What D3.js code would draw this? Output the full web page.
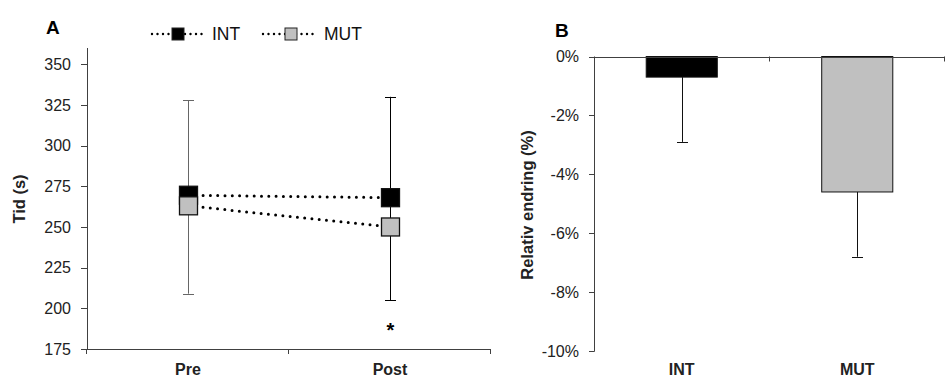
<!DOCTYPE html>
<html>
<head>
<meta charset="utf-8">
<script src="https://cdn.jsdelivr.net/npm/d3@7"></script>
<style>
  body { margin: 0; background: #fff; }
  svg { font-family: "Liberation Sans", Arial, sans-serif; }
</style>
</head>
<body>
<svg width="946" height="378"></svg>
<script>
// Panel A data
const times = ['Pre', 'Post'];
const intMean = [269.5, 268];
const mutMean = [263, 250];
const errHigh = [328, 330];
const errLow = [209, 205];
const yTicksA = [175, 200, 225, 250, 275, 300, 325, 350];

// Panel B data
const groups = ['INT', 'MUT'];
const relChange = [-0.7, -4.6];
const relErr = [-2.9, -6.8];
const yTicksB = [0, -2, -4, -6, -8, -10];

const svg = d3.select('svg');
const axisColor = '#404040';

// ---------- Panel A ----------
const xA = d3.scaleBand().domain(times).range([87, 491]);
const yA = d3.scaleLinear().domain([175, 360]).range([349, 48]);
const gA = svg.append('g');

// y axis
gA.append('line')
  .attr('x1', 87.5).attr('x2', 87.5)
  .attr('y1', yA(360)).attr('y2', yA(175))
  .attr('stroke', axisColor);
gA.selectAll('.ytA')
  .data(yTicksA)
  .enter().append('line')
  .attr('x1', 81).attr('x2', 87.5)
  .attr('y1', d => Math.round(yA(d)) + 0.5)
  .attr('y2', d => Math.round(yA(d)) + 0.5)
  .attr('stroke', axisColor);
gA.selectAll('.ylA')
  .data(yTicksA)
  .enter().append('text')
  .attr('x', 71).attr('y', d => yA(d))
  .attr('dy', '0.36em')
  .attr('text-anchor', 'end')
  .attr('font-size', 16)
  .attr('fill', '#222')
  .text(d => d);

// x axis
gA.append('line')
  .attr('x1', 87).attr('x2', 491)
  .attr('y1', yA(175) + 0.5).attr('y2', yA(175) + 0.5)
  .attr('stroke', axisColor);
gA.selectAll('.xtA')
  .data([...times.map(t => xA(t) + xA.bandwidth()), 87])
  .enter().append('line')
  .attr('x1', d => Math.round(d) - 0.5).attr('x2', d => Math.round(d) - 0.5)
  .attr('y1', yA(175)).attr('y2', yA(175) + 5)
  .attr('stroke', axisColor);
gA.selectAll('.xlA')
  .data(times)
  .enter().append('text')
  .attr('x', d => xA(d) + xA.bandwidth() / 2)
  .attr('y', 375)
  .attr('text-anchor', 'middle')
  .attr('font-size', 16)
  .attr('font-weight', 'bold')
  .attr('fill', '#222')
  .text(d => d);

// axis title
gA.append('text')
  .attr('transform', 'translate(25,' + 199 + ') rotate(-90)')
  .attr('text-anchor', 'middle')
  .attr('font-size', 16.5)
  .attr('font-weight', 'bold')
  .attr('fill', '#222')
  .text('Tid (s)');

gA.append('text')
  .attr('x', 46).attr('y', 34)
  .attr('font-size', 19)
  .attr('font-weight', 'bold')
  .text('A');

// error bars
const cxA = d => Math.round(xA(d) + xA.bandwidth() / 2) + 0.5;
const eb = gA.append('g');
times.forEach((t, i) => {
  const x = cxA(t);
  const col = i === 0 ? '#666' : '#000';
  eb.append('line')
    .attr('x1', x).attr('x2', x)
    .attr('y1', yA(errHigh[i])).attr('y2', yA(errLow[i]))
    .attr('stroke', col);
  [errHigh[i], errLow[i]].forEach(v => {
    eb.append('line')
      .attr('x1', x - 5.5).attr('x2', x + 5.5)
      .attr('y1', Math.round(yA(v)) + 0.5).attr('y2', Math.round(yA(v)) + 0.5)
      .attr('stroke', col);
  });
});

// dotted lines
const lineA = d3.line()
  .x(d => cxA(d.t))
  .y(d => yA(d.v));
[intMean, mutMean].forEach(arr => {
  gA.append('path')
    .datum(times.map((t, i) => ({ t: t, v: arr[i] })))
    .attr('d', lineA)
    .attr('fill', 'none')
    .attr('stroke', '#000')
    .attr('stroke-width', 3)
    .attr('stroke-linecap', 'round')
    .attr('stroke-dasharray', '0 7.3');
});

// markers
const sq = 18;
[[intMean, '#000'], [mutMean, '#c0c0c0']].forEach(([arr, fill]) => {
  gA.selectAll(null)
    .data(times)
    .enter().append('rect')
    .attr('x', d => cxA(d) - sq / 2)
    .attr('y', (d, i) => yA(arr[i]) - sq / 2)
    .attr('width', sq).attr('height', sq)
    .attr('fill', fill)
    .attr('stroke', '#111')
    .attr('stroke-width', 1.3);
});

// significance
gA.append('text')
  .attr('x', cxA('Post')).attr('y', 337)
  .attr('text-anchor', 'middle')
  .attr('font-size', 20)
  .attr('font-weight', 'bold')
  .text('*');

// legend
const legend = [
  { name: 'INT', fill: '#000', x0: 152, x1: 202, sx: 178, tx: 212 },
  { name: 'MUT', fill: '#c0c0c0', x0: 263, x1: 314, sx: 291, tx: 324 },
];
const lg = gA.selectAll('.lg')
  .data(legend)
  .enter().append('g');
lg.append('line')
  .attr('x1', d => d.x0).attr('x2', d => d.x1)
  .attr('y1', 34).attr('y2', 34)
  .attr('stroke', '#000')
  .attr('stroke-width', 2.4)
  .attr('stroke-linecap', 'round')
  .attr('stroke-dasharray', '0 5.5');
lg.append('rect')
  .attr('x', d => d.sx - 6).attr('y', 28)
  .attr('width', 12).attr('height', 12)
  .attr('fill', d => d.fill)
  .attr('stroke', '#222');
lg.append('text')
  .attr('x', d => d.tx).attr('y', 34)
  .attr('dy', '0.36em')
  .attr('font-size', 17.5)
  .attr('fill', '#111')
  .text(d => d.name);

// ---------- Panel B ----------
const xB = d3.scaleBand().domain(groups).range([594, 945]);
const yB = d3.scaleLinear().domain([-10, 0]).range([351, 56.5]);
const gB = svg.append('g');
const barW = xB.bandwidth() * 0.405;

// bars
gB.selectAll('.bar')
  .data(groups)
  .enter().append('rect')
  .attr('x', d => xB(d) + xB.bandwidth() / 2 - barW / 2)
  .attr('y', yB(0))
  .attr('width', barW)
  .attr('height', (d, i) => yB(relChange[i]) - yB(0))
  .attr('fill', (d, i) => i === 0 ? '#000' : '#c0c0c0')
  .attr('stroke', '#111')
  .attr('stroke-width', 1);

// error bars
groups.forEach((g, i) => {
  const x = Math.round(xB(g) + xB.bandwidth() / 2) + 0.5;
  gB.append('line')
    .attr('x1', x).attr('x2', x)
    .attr('y1', yB(relChange[i])).attr('y2', yB(relErr[i]))
    .attr('stroke', '#111');
  gB.append('line')
    .attr('x1', x - 5.5).attr('x2', x + 5.5)
    .attr('y1', Math.round(yB(relErr[i])) + 0.5).attr('y2', Math.round(yB(relErr[i])) + 0.5)
    .attr('stroke', '#111');
});

// axes
gB.append('line')
  .attr('x1', 594.5).attr('x2', 594.5)
  .attr('y1', yB(0)).attr('y2', yB(-10) + 0.5)
  .attr('stroke', axisColor);
gB.selectAll('.ytB')
  .data(yTicksB)
  .enter().append('line')
  .attr('x1', 589).attr('x2', 594.5)
  .attr('y1', d => Math.round(yB(d)) + 0.5)
  .attr('y2', d => Math.round(yB(d)) + 0.5)
  .attr('stroke', axisColor);
gB.selectAll('.ylB')
  .data(yTicksB)
  .enter().append('text')
  .attr('x', 579).attr('y', d => yB(d))
  .attr('dy', '0.36em')
  .attr('text-anchor', 'end')
  .attr('font-size', 16)
  .attr('fill', '#222')
  .text(d => d + '%');

gB.append('line')
  .attr('x1', 594).attr('x2', 945)
  .attr('y1', Math.round(yB(0)) + 0.5).attr('y2', Math.round(yB(0)) + 0.5)
  .attr('stroke', axisColor);
gB.selectAll('.xtB')
  .data(groups.map(g => xB(g) + xB.bandwidth()))
  .enter().append('line')
  .attr('x1', d => Math.round(d) - 0.5).attr('x2', d => Math.round(d) - 0.5)
  .attr('y1', yB(0)).attr('y2', yB(0) + 5)
  .attr('stroke', axisColor);
gB.selectAll('.xlB')
  .data(groups)
  .enter().append('text')
  .attr('x', d => xB(d) + xB.bandwidth() / 2)
  .attr('y', 375)
  .attr('text-anchor', 'middle')
  .attr('font-size', 16)
  .attr('font-weight', 'bold')
  .attr('fill', '#222')
  .text(d => d);

gB.append('text')
  .attr('transform', 'translate(533,' + 205 + ') rotate(-90)')
  .attr('text-anchor', 'middle')
  .attr('font-size', 16.5)
  .attr('font-weight', 'bold')
  .attr('fill', '#222')
  .text('Relativ endring (%)');

gB.append('text')
  .attr('x', 555).attr('y', 37)
  .attr('font-size', 19)
  .attr('font-weight', 'bold')
  .text('B');
</script>
</body>
</html>
